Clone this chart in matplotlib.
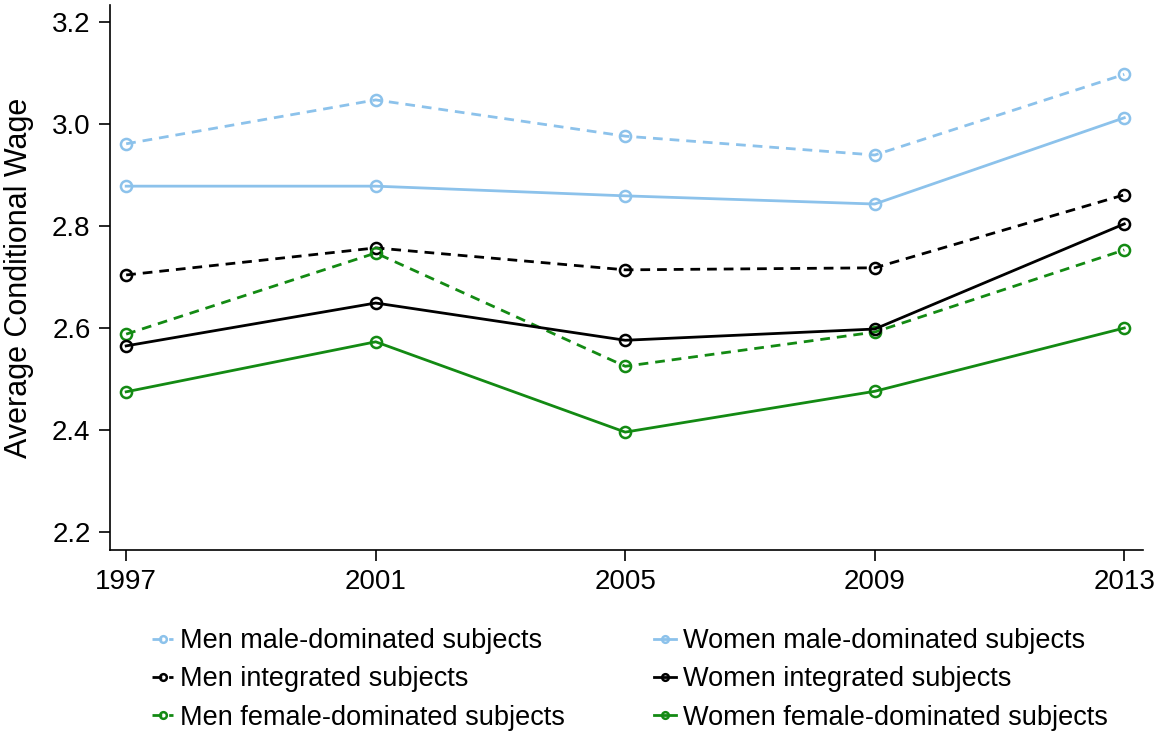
import matplotlib
matplotlib.use('Agg')
import matplotlib.pyplot as plt

plt.rcParams['font.family'] = ['Liberation Sans', 'DejaVu Sans']

years = [1997, 2001, 2005, 2009, 2013]

men_male = [2.961, 3.047, 2.976, 2.939, 3.097]
women_male = [2.878, 2.878, 2.859, 2.843, 3.012]
men_integrated = [2.704, 2.757, 2.714, 2.718, 2.861]
women_integrated = [2.565, 2.649, 2.576, 2.598, 2.804]
men_female = [2.588, 2.747, 2.525, 2.592, 2.753]
women_female = [2.475, 2.573, 2.396, 2.476, 2.600]

y_ticks = [2.2, 2.4, 2.6, 2.8, 3.0, 3.2]

light_blue = '#8cc2eb'
green = '#138a13'

# (label, values, colour, dashed?)
series = [
    ('Men male-dominated subjects', men_male, light_blue, True),
    ('Men integrated subjects', men_integrated, 'black', True),
    ('Men female-dominated subjects', men_female, green, True),
    ('Women male-dominated subjects', women_male, light_blue, False),
    ('Women integrated subjects', women_integrated, 'black', False),
    ('Women female-dominated subjects', women_female, green, False),
]

fig = plt.figure(figsize=(11.55, 7.35), dpi=100)
ax = fig.add_axes([0.0952, 0.2517, 0.8944, 0.7415])

handles = []
for label, vals, col, dashed in series:
    h, = ax.plot(years, vals, color=col, lw=2,
                 ls=(0, (3.5, 2.5)) if dashed else '-',
                 marker='o', ms=8, mfc='none', mec=col, mew=1.8,
                 label=label)
    handles.append(h)

ax.set_xlim(1996.74, 2013.3)
ax.set_ylim(2.165, 3.233)
ax.set_xticks(years)
ax.set_yticks(y_ticks)
ax.set_yticklabels([f'{v:.1f}' for v in y_ticks])
ax.tick_params(labelsize=20, length=8, width=1.2, direction='out', pad=6)
for s in ['top', 'right']:
    ax.spines[s].set_visible(False)
for s in ['left', 'bottom']:
    ax.spines[s].set_linewidth(1.2)
ax.set_ylabel('Average Conditional Wage', fontsize=22, labelpad=13)

fig.legend(handles=handles, ncol=2, loc='upper left',
           bbox_to_anchor=(0.122, 0.16), frameon=False,
           fontsize=19.5, handlelength=0.8, handletextpad=0.25,
           columnspacing=3.3, labelspacing=0.45, markerscale=0.6,
           borderaxespad=0)

fig.savefig('out.png', dpi=100)
